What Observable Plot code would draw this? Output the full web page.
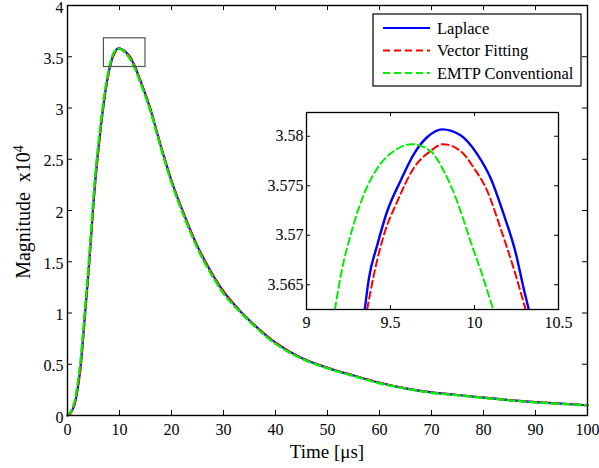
<!DOCTYPE html>
<html><head><meta charset="utf-8">
<script src="https://cdn.jsdelivr.net/npm/d3@7"></script>
<script src="https://cdn.jsdelivr.net/npm/@observablehq/plot@0.6"></script>
<style>
body{margin:0;background:#fff;}
#wrap{position:relative;width:599px;height:468px;}
#wrap svg{position:absolute;}
#wrap svg, #wrap svg text{font-family:'Liberation Serif','Times New Roman',serif !important;}
</style></head><body><div id="wrap"></div>
<script>
// ---- main chart data (magnitude in units of 10^4) ----
const time = [0,1,1.5,2,2.5,3,3.5,4,4.5,5, 5.5,6,6.5,7,7.5,8,8.5,9,9.8,10.5, 11,12,13,14,15,16,17,18,19,20, 22.5,25,27.5,30,33,36,40,45,50,55, 60,65,70,75,80,85,90,95,100];
const laplace = [0,0.06,0.14,0.28,0.47,0.76,1.07,1.38,1.72,2.08, 2.38,2.63,2.86,3.06,3.23,3.37,3.47,3.535,3.581,3.572, 3.555,3.50,3.40,3.27,3.13,2.98,2.80,2.62,2.45,2.29, 1.95,1.65,1.41,1.21,1.03,0.88,0.71,0.56,0.465,0.39, 0.32,0.265,0.225,0.2,0.175,0.15,0.13,0.115,0.1];
const vectorFitting = [0,0.06,0.14,0.28,0.46,0.75,1.06,1.37,1.71,2.07, 2.37,2.62,2.85,3.05,3.22,3.36,3.465,3.53,3.579,3.571, 3.553,3.50,3.40,3.27,3.13,2.98,2.80,2.62,2.45,2.29, 1.95,1.65,1.41,1.21,1.03,0.88,0.71,0.56,0.465,0.39, 0.32,0.265,0.225,0.2,0.175,0.15,0.13,0.115,0.1];
const emtp = [0,0.08,0.17,0.33,0.53,0.82,1.13,1.44,1.78,2.14, 2.44,2.68,2.9,3.1,3.26,3.39,3.49,3.55,3.579,3.565, 3.545,3.48,3.38,3.25,3.11,2.96,2.78,2.6,2.43,2.27, 1.93,1.63,1.39,1.19,1.02,0.87,0.70,0.555,0.46,0.385, 0.315,0.262,0.222,0.197,0.172,0.148,0.128,0.113,0.099];
const xTicks = [0,10,20,30,40,50,60,70,80,90,100];
const yTicks = [0,0.5,1,1.5,2,2.5,3,3.5,4];
const zoomBoxT = [7, 15];
const zoomBoxM = [3.4, 3.68];

// ---- inset data ----
const laplaceZoomT = [9.347,9.371,9.421,9.48,9.56,9.639,9.718,9.808,9.917,10.016,10.095,10.174,10.244,10.293,10.323];
const laplaceZoomM = [3.5625,3.5656,3.569,3.5724,3.5755,3.5782,3.5799,3.5807,3.5801,3.5782,3.5758,3.5721,3.5683,3.5646,3.5625];
const vfZoomT = [9.361,9.401,9.46,9.54,9.639,9.738,9.812,9.917,9.996,10.075,10.155,10.234,10.304];
const vfZoomM = [3.5625,3.566,3.57,3.5734,3.5768,3.5785,3.5792,3.5785,3.5768,3.5745,3.5707,3.5666,3.5625];
const emtpZoomT = [9.169,9.212,9.262,9.341,9.44,9.52,9.625,9.738,9.817,9.897,9.976,10.046,10.111];
const emtpZoomM = [3.5625,3.5666,3.57,3.5741,3.5772,3.5785,3.5792,3.5785,3.5765,3.5734,3.5694,3.566,3.5625];
const insetXTicks = [9,9.5,10,10.5];
const insetYTicks = [3.565,3.57,3.575,3.58];

const seriesNames = ["Laplace","Vector Fitting","EMTP Conventional"];
const seriesStyle = {
  "Laplace": {stroke:"#0000ff", strokeWidth:2.2, dash:null},
  "Vector Fitting": {stroke:"#ff0000", strokeWidth:2.2, dash:"7,4"},
  "EMTP Conventional": {stroke:"#00ee00", strokeWidth:2.4, dash:"7,4"}
};

const mainValues = {"Laplace": laplace, "Vector Fitting": vectorFitting, "EMTP Conventional": emtp};
const zoomValues = {
  "Laplace": [laplaceZoomT, laplaceZoomM],
  "Vector Fitting": [vfZoomT, vfZoomM],
  "EMTP Conventional": [emtpZoomT, emtpZoomM]
};

const font = "'Liberation Serif', 'Times New Roman', serif";
const W = 599, H = 468, mL = 67, mR = 12, mT = 5, mB = 53;
const pw = W - mL - mR, ph = H - mT - mB;

const mainLines = seriesNames.map(name => {
  const s = seriesStyle[name];
  const rows = time.map((t, i) => ({t, m: mainValues[name][i]}));
  return Plot.line(rows, {x: "t", y: "m", stroke: s.stroke, strokeWidth: s.strokeWidth,
    strokeDasharray: s.dash, curve: "monotone-x"});
});

const main = Plot.plot({
  width: W, height: H, marginLeft: mL, marginRight: mR, marginTop: mT, marginBottom: mB,
  x: {domain: [0, 100]},
  y: {domain: [0, 4]},
  style: {fontFamily: font, fontSize: "16px", background: "white", color: "black", overflow: "visible"},
  marks: [
    ...mainLines,
    Plot.rect([0], {x1: () => zoomBoxT[0], x2: () => zoomBoxT[1], y1: () => zoomBoxM[0], y2: () => zoomBoxM[1], stroke: "#555", strokeWidth: 1.2, fill: "none"}),
    Plot.ruleX(xTicks, {x: d => d, insetTop: ph - 5, stroke: "black"}),
    Plot.ruleX(xTicks, {x: d => d, insetBottom: ph - 5, stroke: "black"}),
    Plot.ruleY(yTicks, {y: d => d, insetRight: pw - 5, stroke: "black"}),
    Plot.ruleY(yTicks, {y: d => d, insetLeft: pw - 5, stroke: "black"}),
    Plot.frame({stroke: "black", strokeWidth: 1.4}),
    Plot.axisX(xTicks, {tickSize: 0, tickPadding: 8, tickFormat: d => String(d), label: null, fontFamily: font, fontSize: 16}),
    Plot.axisY(yTicks, {tickSize: 0, tickPadding: 4, dy: 2, tickFormat: d => String(d), label: null, fontFamily: font, fontSize: 16})
  ]
});
main.style.left = "0px"; main.style.top = "0px";

const sel = d3.select(main);
const xs = main.scale("x"), ys = main.scale("y");
sel.append("text").attr("x", xs.apply(50)).attr("y", 458).attr("text-anchor", "middle")
  .attr("font-family", font).attr("font-size", "19px").attr("fill", "black").text("Time [μs]");
const yl = sel.append("text").attr("transform", `translate(30,${ys.apply(2) + 2}) rotate(-90)`)
  .attr("text-anchor", "middle").attr("font-family", font).attr("font-size", "20px").attr("fill", "black");
yl.append("tspan").text("Magnitude  x10");
yl.append("tspan").attr("dy", "-0.5em").attr("font-size", "14px").text("4");

// legend
const lg = sel.append("g");
lg.append("rect").attr("x", 373).attr("y", 14).attr("width", 208).attr("height", 72)
  .attr("fill", "white").attr("stroke", "black").attr("stroke-width", 1.2);
seriesNames.forEach((name, i) => {
  const s = seriesStyle[name];
  const y = 28 + i * 22.5;
  lg.append("line").attr("x1", 383).attr("x2", 430).attr("y1", y).attr("y2", y)
    .attr("stroke", s.stroke).attr("stroke-width", 2.2).attr("stroke-dasharray", s.dash);
  lg.append("text").attr("x", 437).attr("y", y + 5.5).attr("text-anchor", "start").attr("font-family", font)
    .attr("font-size", "16.5px").attr("fill", "black").text(name);
});

// ---- inset ----
const iW = 332, iH = 233, iL = 60, iR = 20, iT = 10, iB = 26;
const ipw = iW - iL - iR, iph = iH - iT - iB;
const insetLines = seriesNames.map(name => {
  const s = seriesStyle[name];
  const [tt, mm] = zoomValues[name];
  const rows = tt.map((t, i) => ({t, m: mm[i]}));
  return Plot.line(rows, {x: "t", y: "m", stroke: s.stroke, strokeWidth: name === "Laplace" ? 2.4 : 2,
    strokeDasharray: s.dash, curve: "monotone-x", clip: true});
});
const inset = Plot.plot({
  width: iW, height: iH, marginLeft: iL, marginRight: iR, marginTop: iT, marginBottom: iB,
  x: {domain: [9, 10.5]},
  y: {domain: [3.5625, 3.5824]},
  style: {fontFamily: font, fontSize: "16px", background: "transparent", color: "black", overflow: "visible"},
  marks: [
    Plot.frame({fill: "white"}),
    ...insetLines,
    Plot.ruleX(insetXTicks, {x: d => d, insetTop: iph - 4, stroke: "black"}),
    Plot.ruleX(insetXTicks, {x: d => d, insetBottom: iph - 4, stroke: "black"}),
    Plot.ruleY(insetYTicks, {y: d => d, insetRight: ipw - 4, stroke: "black"}),
    Plot.ruleY(insetYTicks, {y: d => d, insetLeft: ipw - 4, stroke: "black"}),
    Plot.frame({stroke: "black", strokeWidth: 1.3}),
    Plot.axisX(insetXTicks, {tickSize: 0, tickPadding: 7, tickFormat: d => String(d), label: null, fontFamily: font, fontSize: 16}),
    Plot.axisY(insetYTicks, {tickSize: 0, tickPadding: 3, tickFormat: d => String(d), label: null, fontFamily: font, fontSize: 16})
  ]
});
inset.style.left = "246px"; inset.style.top = "102px";

const wrap = document.getElementById("wrap");
wrap.appendChild(main);
wrap.appendChild(inset);
</script>
</body></html>
